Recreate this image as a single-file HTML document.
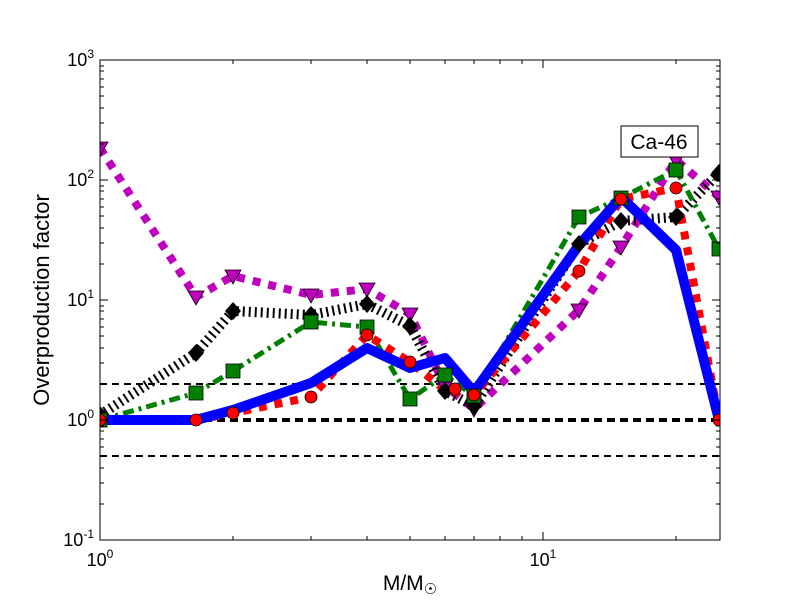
<!DOCTYPE html><html><head><style>body{margin:0;background:#fff}svg{display:block}text{font-family:"Liberation Sans",sans-serif}</style></head><body>
<svg width="800" height="600" viewBox="0 0 800 600" xmlns="http://www.w3.org/2000/svg">
<defs><clipPath id="c"><rect x="100" y="60" width="620" height="480"/></clipPath></defs>
<rect width="800" height="600" fill="#fff"/>
<g clip-path="url(#c)">
<line x1="100" y1="384" x2="720" y2="384" stroke="#000" stroke-width="2" stroke-dasharray="7,5"/>
<line x1="100" y1="420" x2="720" y2="420" stroke="#000" stroke-width="4" stroke-dasharray="8,5"/>
<line x1="100" y1="456" x2="720" y2="456" stroke="#000" stroke-width="2" stroke-dasharray="7,5"/>
<polyline fill="none" stroke="#bf00bf" stroke-width="8" stroke-dasharray="8,8" points="100,148 196,297 233,276 311,295 367,289 410,314 445,386 474,409 579,310 621,247 676,160 719,197"/>
<polyline fill="none" stroke="#000" stroke-width="10" stroke-dasharray="2,4" points="100,415 196,353 233,311 311,315 367,304 410,326 445,391 474,406 579,244 621,221 676,217 719,173"/>
<polyline fill="none" stroke="#007f00" stroke-width="5" stroke-dasharray="11,5,3,5" points="100,420 196,393 233,371 311,322 367,327 410,399 445,375 474,396 579,217 621,198 676,170 719,249"/>
<polyline fill="none" stroke="#f00" stroke-width="8" stroke-dasharray="8,8" points="100,420 196,420 233,413 311,397 367,335 410,362 445,390 474,395 579,271 621,199 676,188 719,420"/>
<polyline fill="none" stroke="#00f" stroke-width="10" stroke-linejoin="round" points="100,420 196,420 233,410 311,383 367,348 410,368 445,358 474,392 579,245 621,197 676,250 719,420"/>
<g fill="#bf00bf" stroke="#000" stroke-width="0.8">
<path d="M92,142h16l-8,14z"/><path d="M188,291h16l-8,14z"/><path d="M225,270h16l-8,14z"/><path d="M303,289h16l-8,14z"/><path d="M359,283h16l-8,14z"/><path d="M402,308h16l-8,14z"/><path d="M437,380h16l-8,14z"/><path d="M466,403h16l-8,14z"/><path d="M571,304h16l-8,14z"/><path d="M613,241h16l-8,14z"/><path d="M668,154h16l-8,14z"/><path d="M711,191h16l-8,14z"/></g>
<g fill="#000">
<path d="M100,406l8,9l-8,9l-8,-9z"/><path d="M196,344l8,9l-8,9l-8,-9z"/><path d="M233,302l8,9l-8,9l-8,-9z"/><path d="M311,306l8,9l-8,9l-8,-9z"/><path d="M367,295l8,9l-8,9l-8,-9z"/><path d="M410,317l8,9l-8,9l-8,-9z"/><path d="M445,382l8,9l-8,9l-8,-9z"/><path d="M474,397l8,9l-8,9l-8,-9z"/><path d="M579,235l8,9l-8,9l-8,-9z"/><path d="M621,212l8,9l-8,9l-8,-9z"/><path d="M676,208l8,9l-8,9l-8,-9z"/><path d="M719,164l8,9l-8,9l-8,-9z"/></g>
<g fill="#007f00" stroke="#000" stroke-width="0.8">
<rect x="93" y="413" width="14" height="14"/><rect x="189" y="386" width="14" height="14"/><rect x="226" y="364" width="14" height="14"/><rect x="304" y="315" width="14" height="14"/><rect x="360" y="320" width="14" height="14"/><rect x="403" y="392" width="14" height="14"/><rect x="438" y="368" width="14" height="14"/><rect x="467" y="389" width="14" height="14"/><rect x="572" y="210" width="14" height="14"/><rect x="614" y="191" width="14" height="14"/><rect x="669" y="163" width="14" height="14"/><rect x="712" y="242" width="14" height="14"/></g>
<g fill="#f00" stroke="#000" stroke-width="0.8">
<circle cx="100" cy="420" r="6"/><circle cx="196" cy="420" r="6"/><circle cx="233" cy="413" r="6"/><circle cx="311" cy="397" r="6"/><circle cx="367" cy="335" r="6"/><circle cx="410" cy="362" r="6"/><circle cx="455" cy="389" r="6"/><circle cx="474" cy="395" r="6"/><circle cx="579" cy="271" r="6"/><circle cx="621" cy="199" r="6"/><circle cx="676" cy="188" r="6"/><circle cx="719" cy="420" r="6"/></g>
</g>
<rect x="100" y="60" width="620" height="480" fill="none" stroke="#000" stroke-width="1"/>
<g stroke="#000" stroke-width="1">
<path d="M543,540v-8M543,60v8M100,540v-8M100,60v8"/>
<path d="M233,540v-4M311,540v-4M367,540v-4M410,540v-4M445,540v-4M474,540v-4M500,540v-4M522,540v-4M676,540v-4M233,60v4M311,60v4M367,60v4M410,60v4M445,60v4M474,60v4M500,60v4M522,60v4M676,60v4"/>
<path d="M100,60h8M100,180h8M100,300h8M100,420h8M100,540h8M720,60h-8M720,180h-8M720,300h-8M720,420h-8M720,540h-8"/>
<path id="mt" d="M100,504h4M100,483h4M100,468h4M100,456h4M100,447h4M100,439h4M100,431h4M100,426h4M720,504h-4M720,483h-4M720,468h-4M720,456h-4M720,447h-4M720,439h-4M720,431h-4M720,426h-4"/>
<use href="#mt" y="-120"/><use href="#mt" y="-240"/><use href="#mt" y="-360"/>
</g>
<g font-size="18" fill="#000">
<text x="100" y="566" text-anchor="middle">10<tspan dy="-8" font-size="12">0</tspan></text>
<text x="543" y="566" text-anchor="middle">10<tspan dy="-8" font-size="12">1</tspan></text>
<text x="94" y="66" text-anchor="end">10<tspan dy="-8" font-size="12">3</tspan></text>
<text x="94" y="186" text-anchor="end">10<tspan dy="-8" font-size="12">2</tspan></text>
<text x="94" y="306" text-anchor="end">10<tspan dy="-8" font-size="12">1</tspan></text>
<text x="94" y="426" text-anchor="end">10<tspan dy="-8" font-size="12">0</tspan></text>
<text x="94" y="546" text-anchor="end">10<tspan dy="-8" font-size="12">-1</tspan></text>
</g>
<text x="410" y="590" font-size="21" text-anchor="middle">M/M<tspan font-size="15" dy="4">☉</tspan></text>
<text transform="translate(49,300) rotate(-90)" font-size="22" text-anchor="middle">Overproduction factor</text>
<rect x="621" y="126" width="77" height="31" fill="#fff" stroke="#000" stroke-width="1"/>
<text x="659" y="149" font-size="21" text-anchor="middle">Ca-46</text>
</svg></body></html>
